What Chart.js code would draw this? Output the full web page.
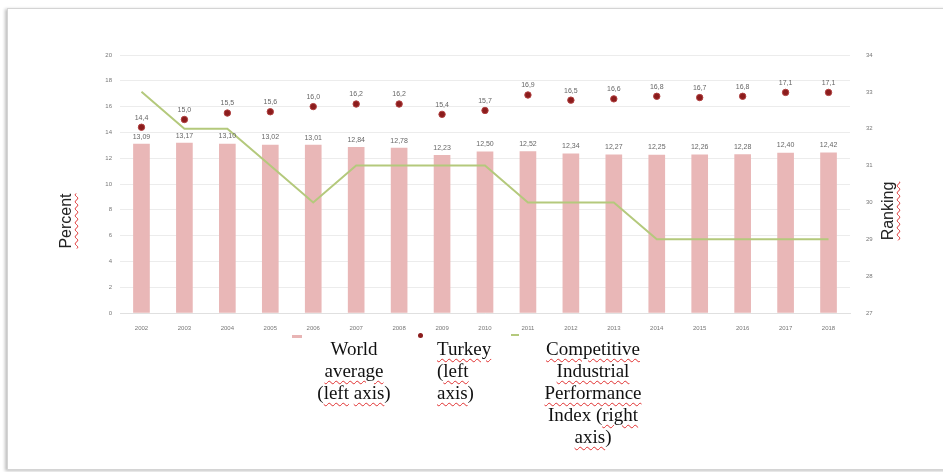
<!DOCTYPE html>
<html><head><meta charset="utf-8">
<script src="https://cdn.jsdelivr.net/npm/chart.js@4/dist/chart.umd.min.js"></script>
<style>
html,body{margin:0;padding:0;background:#fff;}
#wrap{position:relative;width:943px;height:472px;overflow:hidden;background:#fff;}
#frame{position:absolute;left:7px;top:8px;width:960px;height:460px;border:1px solid #d4d4d4;box-shadow:-2px 1px 3px rgba(0,0,0,0.25);}
canvas{position:absolute;left:0;top:0;}
.axt{position:absolute;font-family:"Liberation Sans",Arial,sans-serif;font-size:16px;color:#222;transform:rotate(-90deg);transform-origin:center;white-space:nowrap;}
.w{text-decoration:underline wavy #e03030;text-decoration-thickness:1px;text-underline-offset:3px;}
.lg{position:absolute;font-family:"Liberation Serif","Times New Roman",serif;font-size:19px;line-height:22px;color:#111;white-space:nowrap;}
.mk{position:absolute;}
</style></head>
<body><div id="wrap">
<div id="frame"></div>
<canvas id="c" width="943" height="472"></canvas>
<div class="axt" style="left:31px;top:212px;width:70px;text-align:center;"><span class="w">Percent</span></div>
<div class="axt" style="left:853px;top:202px;width:70px;text-align:center;"><span class="w">Ranking</span></div>
<div class="mk" style="left:292px;top:335px;width:10px;height:3px;background:#e8b4b4;"></div>
<div class="lg" style="left:300px;top:338px;width:108px;text-align:center;">World<br><span class="w">average</span><br>(<span class="w">left</span> <span class="w">axis</span>)</div>
<div class="mk" style="left:418px;top:333px;width:5px;height:5px;border-radius:50%;background:#8b1c1c;"></div>
<div class="lg" style="left:437px;top:338px;"><span class="w">Turkey</span><br>(<span class="w">left</span><br><span class="w">axis</span>)</div>
<div class="mk" style="left:511px;top:334px;width:8px;height:2px;background:#b4c97c;"></div>
<div class="lg" style="left:533px;top:338px;width:120px;text-align:center;"><span class="w">Competitive</span><br><span class="w">Industrial</span><br><span class="w">Performance</span><br>Index (<span class="w">right</span><br><span class="w">axis</span>)</div>
</div>
<script>
const years = ["2002","2003","2004","2005","2006","2007","2008","2009","2010","2011","2012","2013","2014","2015","2016","2017","2018"];
const worldAverage = [13.09,13.17,13.10,13.02,13.01,12.84,12.78,12.23,12.50,12.52,12.34,12.27,12.25,12.26,12.28,12.40,12.42];
const turkey = [14.4,15.0,15.5,15.6,16.0,16.2,16.2,15.4,15.7,16.9,16.5,16.6,16.8,16.7,16.8,17.1,17.1];
const cipRanking = [33,32,32,31,30,31,31,31,31,30,30,30,29,29,29,29,29];
const leftTicks = [0,20,2];
const rightTicks = [27,34,1];

const labelPlugin = {
  id:'vlabels',
  afterDatasetsDraw(chart){
    const ctx = chart.ctx;
    ctx.save();
    ctx.font = '7px "Liberation Sans", Arial, sans-serif';
    ctx.fillStyle = '#666';
    ctx.textAlign = 'center';
    ctx.textBaseline = 'bottom';
    const m0 = chart.getDatasetMeta(0);
    m0.data.forEach((el,i)=>{
      ctx.fillText(worldAverage[i].toFixed(2).replace('.',','), el.x, el.y - 4);
    });
    const m1 = chart.getDatasetMeta(1);
    m1.data.forEach((el,i)=>{
      ctx.fillText(turkey[i].toFixed(1).replace('.',','), el.x, el.y - 6);
    });
    ctx.restore();
  }
};

new Chart(document.getElementById('c'), {
  data:{
    labels: years,
    datasets:[
      {type:'bar', label:'World average (left axis)', data: worldAverage, backgroundColor:'#e9b7b7', barThickness:16, yAxisID:'y', order:3},
      {type:'line', label:'Turkey (left axis)', data: turkey, showLine:false, pointRadius:3.2, pointBackgroundColor:'#8b1c1c', pointBorderColor:'#b04040', pointBorderWidth:1, yAxisID:'y', order:1},
      {type:'line', label:'Competitive Industrial Performance Index (right axis)', data: cipRanking, borderColor:'#b4c97c', borderWidth:2, pointRadius:0, tension:0, yAxisID:'y1', order:2}
    ]
  },
  options:{
    responsive:false, animation:false,
    layout:{padding:{left:90, right:62, top:55, bottom:142}},
    plugins:{legend:{display:false}, tooltip:{enabled:false}},
    scales:{
      x:{grid:{display:false}, border:{display:true,color:'#e0e0e0'},
         ticks:{font:{size:6,family:'"Liberation Sans", Arial, sans-serif'}, color:'#777', maxRotation:0, padding:4},
         afterFit(s){ s.height = 17; }},
      y:{position:'left', min:leftTicks[0], max:leftTicks[1],
         ticks:{stepSize:leftTicks[2], font:{size:6,family:'"Liberation Sans", Arial, sans-serif'}, color:'#777', padding:8},
         grid:{color:'#ececec', drawTicks:false}, border:{display:false},
         afterFit(s){ s.width = 30; }},
      y1:{position:'right', min:rightTicks[0], max:rightTicks[1],
         ticks:{stepSize:rightTicks[2], font:{size:6,family:'"Liberation Sans", Arial, sans-serif'}, color:'#777', padding:8},
         grid:{display:false}, border:{display:false},
         afterFit(s){ s.width = 31; }}
    }
  },
  plugins:[labelPlugin]
});
</script>
</body></html>
